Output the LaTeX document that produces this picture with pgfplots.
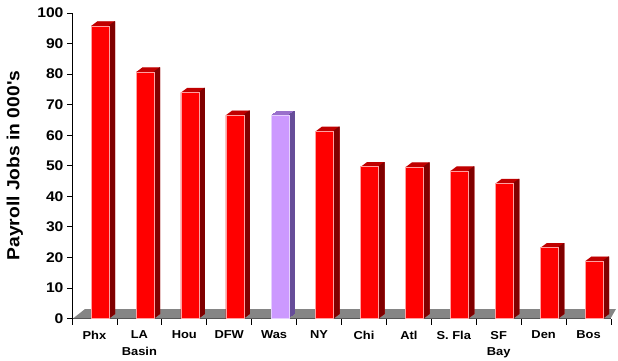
\documentclass[border=0pt]{standalone}
\usepackage{fontspec}
\setmainfont{Liberation Sans}
\newfontfamily\widefont[FakeStretch=1.12]{Liberation Sans}
\newfontfamily\labelfont[FakeStretch=1.10]{Liberation Sans}
\usepackage{pgfplots}
\pgfplotsset{compat=1.18}
\usepackage{pgfplotstable}

\definecolor{frontred}{HTML}{FF0000}
\definecolor{sidered}{HTML}{800000}
\definecolor{topred}{HTML}{C00000}
\definecolor{edgered}{HTML}{FFA0A0}
\definecolor{frontlav}{HTML}{CC99FF}
\definecolor{sidelav}{HTML}{664D99}
\definecolor{toplav}{HTML}{9970CC}
\definecolor{edgelav}{HTML}{E6D0FF}
\definecolor{floorgray}{HTML}{858585}

% payroll jobs (thousands) by metro area; x = category index
\pgfplotstableread{
x v
0 95.8
1 80.7
2 74.0
3 66.6
5 61.3
6 49.7
7 49.6
8 48.3
9 44.2
10 23.2
11 18.8
}\redbars
\pgfplotstableread{
x v
4 66.5
}\wasbar

\begin{document}
\begin{tikzpicture}[x=1pt,y=1pt]
\useasboundingbox (0,0) rectangle (618,360);
\begin{axis}[
  at={(72pt,41.5pt)}, anchor=south west,
  scale only axis, width=539pt, height=305.5pt,
  xmin=-0.5, xmax=11.5, ymin=0, ymax=100,
  clip=false,
  axis x line*=bottom, axis y line*=left,
  axis line style={line width=0.8pt, black},
  ytick={0,10,...,100},
  xtick={0,...,11},
  xticklabels={Phx, LA\\Basin, Hou, DFW, Was, NY, Chi, Atl, S. Fla, SF\\Bay, Den, Bos},
  minor xtick={-0.5,0.5,...,11.5},
  every major x tick/.append style={draw=none},
  tick align=outside,
  major tick length=5pt, minor tick length=6pt,
  tick style={black, line width=0.8pt},
  /pgf/number format/assume math mode=true,
  yticklabel style={font=\widefont\bfseries\fontsize{14}{14}\selectfont},
  xticklabel style={font=\widefont\bfseries\fontsize{11.5}{16.5}\selectfont, align=center, yshift=-4pt},
  every axis y label/.style={at={(axis description cs:-0.1058,0.5)}, anchor=center, rotate=90},
  ylabel={\labelfont\bfseries\fontsize{17.5}{17.5}\selectfont Payroll Jobs in 000\textquotesingle s},
]
% floor
\addplot[fill=floorgray, draw=none] coordinates {(-0.478,0) (-0.211,3.1) (11.61,3.1) (11.49,0)} \closedcycle;

% top faces: sweep the bar backwards in depth
\pgfplotsinvokeforeach{0,...,12}{
  \addplot[ybar, bar width=18pt, bar shift=5.7pt, fill=topred, draw=none,
    xshift=#1*0.5pt, yshift=#1*0.375pt] table[x=x,y=v]{\redbars};
  \addplot[ybar, bar width=18pt, bar shift=5.7pt, fill=toplav, draw=none,
    xshift=#1*0.5pt, yshift=#1*0.375pt] table[x=x,y=v]{\wasbar};
}
% side faces: sweep the right edge
\pgfplotsinvokeforeach{0,...,12}{
  \addplot[ybar, bar width=1pt, bar shift=14.2pt, fill=sidered, draw=none,
    xshift=#1*0.5pt, yshift=#1*0.375pt] table[x=x,y=v]{\redbars};
  \addplot[ybar, bar width=1pt, bar shift=14.2pt, fill=sidelav, draw=none,
    xshift=#1*0.5pt, yshift=#1*0.375pt] table[x=x,y=v]{\wasbar};
}
% front faces
\addplot[ybar, bar width=18pt, bar shift=5.7pt, fill=frontred, draw=edgered, line width=0.5pt]
  table[x=x,y=v]{\redbars};
\addplot[ybar, bar width=18pt, bar shift=5.7pt, fill=frontlav, draw=edgelav, line width=0.5pt]
  table[x=x,y=v]{\wasbar};
\end{axis}
\end{tikzpicture}
\end{document}
